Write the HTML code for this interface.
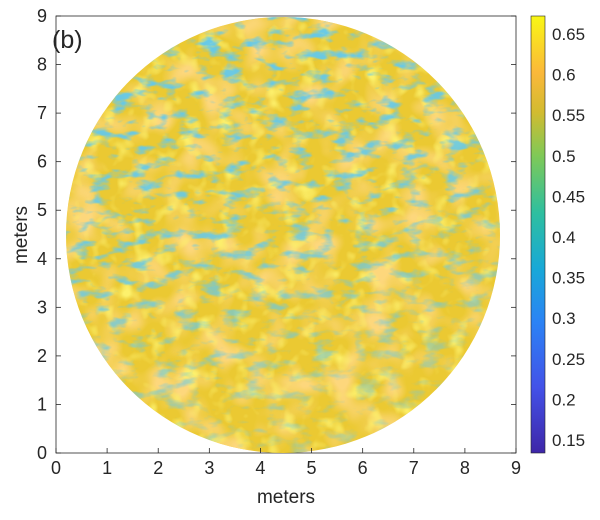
<!DOCTYPE html>
<html><head><meta charset="utf-8"><style>
body{margin:0;background:#fff;}
svg text{font-family:"Liberation Sans",sans-serif;fill:#262626;}
</style></head><body>
<svg id="chart" width="600" height="515" viewBox="0 0 600 515">
<defs>
<linearGradient id="cmap" x1="0" y1="1" x2="0" y2="0">
<stop offset="0" stop-color="#3e26a8"/><stop offset="0.15" stop-color="#4352e8"/><stop offset="0.3" stop-color="#2b83f5"/><stop offset="0.42" stop-color="#18a8d8"/><stop offset="0.55" stop-color="#2ebf9f"/><stop offset="0.68" stop-color="#7fc957"/><stop offset="0.78" stop-color="#d2bb30"/><stop offset="0.87" stop-color="#fbb83a"/><stop offset="1" stop-color="#f9f714"/>
</linearGradient>
<clipPath id="disk"><ellipse cx="283" cy="235" rx="217" ry="218"/></clipPath>
<filter id="tex" x="0" y="0" width="100%" height="100%">
<feTurbulence type="fractalNoise" baseFrequency="0.045 0.1" numOctaves="3" seed="4"/>
<feColorMatrix type="matrix" values="0 0 0 0 0.12  0 0 0 0 0.58  0 0 0 0 0.85  -4 0 0 0 1.95"/>
</filter>
<filter id="tex2" x="0" y="0" width="100%" height="100%">
<feTurbulence type="fractalNoise" baseFrequency="0.06" numOctaves="2" seed="9"/>
<feColorMatrix type="matrix" values="0 0 0 0 0.98  0 0 0 0 0.88  0 0 0 0 0.15  -3 0 0 0 1.4"/>
</filter>
<filter id="tex3" x="0" y="0" width="100%" height="100%">
<feTurbulence type="fractalNoise" baseFrequency="0.03" numOctaves="2" seed="21"/>
<feColorMatrix type="matrix" values="0 0 0 0 0.98  0 0 0 0 0.68  0 0 0 0 0.2  3 0 0 0 -1.3"/>
</filter>
<linearGradient id="fade" x1="0" y1="0" x2="0.3" y2="1">
<stop offset="0" stop-color="#fff" stop-opacity="1"/><stop offset="0.55" stop-color="#fff" stop-opacity="0.85"/><stop offset="1" stop-color="#fff" stop-opacity="0.35"/>
</linearGradient>
<mask id="m"><rect x="60" y="10" width="460" height="450" fill="url(#fade)"/></mask>
</defs>
<rect x="56" y="16" width="460" height="437" fill="#fff" stroke="#262626" stroke-width="0.8"/>
<g clip-path="url(#disk)">
<rect x="60" y="10" width="460" height="450" fill="#ebc932"/>
<rect x="60" y="10" width="460" height="450" filter="url(#tex3)"/>
<rect x="60" y="10" width="460" height="450" filter="url(#tex2)"/>
<rect x="60" y="10" width="460" height="450" filter="url(#tex)" mask="url(#m)"/>
</g>
<g id="axes"></g>
<rect x="531" y="16" width="14" height="437" fill="url(#cmap)" stroke="#262626" stroke-width="0.6"/>
<text x="52" y="48" font-size="25">(b)</text>
<text x="286" y="503" font-size="19" text-anchor="middle">meters</text>
<text transform="translate(27,235) rotate(-90)" font-size="19" text-anchor="middle">meters</text>
</svg>
<script>
const xTicks=[0,1,2,3,4,5,6,7,8,9];
const yTicks=[0,1,2,3,4,5,6,7,8,9];
const cTicks=[0.15,0.2,0.25,0.3,0.35,0.4,0.45,0.5,0.55,0.6,0.65];
const X=v=>56+v*(460/9), Y=v=>453-v*(437/9), C=v=>440-(v-0.15)*(406/0.5);
const g=document.getElementById('axes'), ns='http://www.w3.org/2000/svg';
function mk(t,a){const e=document.createElementNS(ns,t);for(const k in a)e.setAttribute(k,a[k]);g.appendChild(e);return e;}
xTicks.forEach(v=>{
 const l=mk('line',{x1:X(v),x2:X(v),y1:453,y2:448,stroke:'#262626','stroke-width':0.8});
 
 
 const t=mk('text',{x:X(v),y:474,'font-size':18,'text-anchor':'middle'});t.textContent=v;
 
 
});
yTicks.forEach(v=>{
 const l=mk('line',{x1:56,x2:61,y1:Y(v),y2:Y(v),stroke:'#262626','stroke-width':0.8});
 
 
 const l2=mk('line',{x1:511,x2:516,y1:Y(v),y2:Y(v),stroke:'#262626','stroke-width':0.8});
 
 
 const t=mk('text',{x:47,y:Y(v)+6,'font-size':18,'text-anchor':'end'});t.textContent=v;
 
 
});
cTicks.forEach(v=>{
 const l=mk('line',{x1:541,x2:545,y1:C(v),y2:C(v),stroke:'#262626','stroke-width':0.8});
 
 
 const t=mk('text',{x:552,y:C(v)+6,'font-size':17});t.textContent=v;
 
 
});
</script>
</body></html>
